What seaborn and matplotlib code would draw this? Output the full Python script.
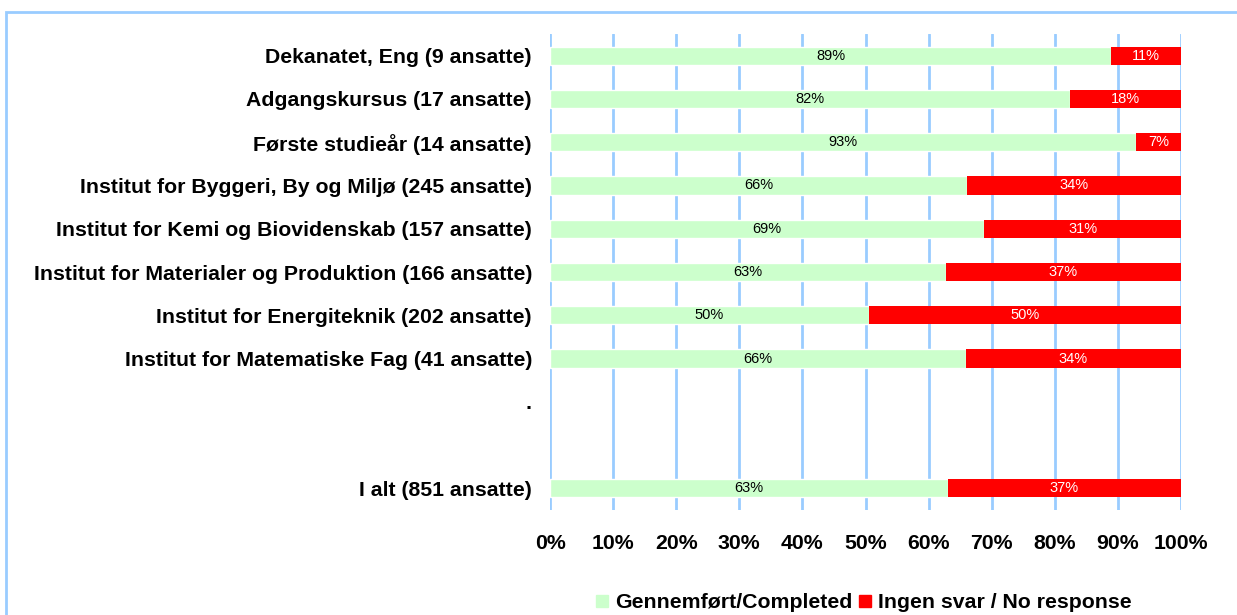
import pandas as pd
import seaborn as sns
import matplotlib.pyplot as plt
from matplotlib.patches import Rectangle

# -------------------- Data --------------------
categories = [
    "Dekanatet, Eng (9 ansatte)",
    "Adgangskursus (17 ansatte)",
    "Første studieår (14 ansatte)",
    "Institut for Byggeri, By og Miljø (245 ansatte)",
    "Institut for Kemi og Biovidenskab (157 ansatte)",
    "Institut for Materialer og Produktion (166 ansatte)",
    "Institut for Energiteknik (202 ansatte)",
    "Institut for Matematiske Fag (41 ansatte)",
    "I alt (851 ansatte)",
]
completed = [88.9, 82.4, 92.9, 66.1, 68.8, 62.7, 50.5, 65.9, 63.0]
no_response = [11.1, 17.6, 7.1, 33.9, 31.2, 37.3, 49.5, 34.1, 37.0]
completed_labels = ["89%", "82%", "93%", "66%", "69%", "63%", "50%", "66%", "63%"]
no_response_labels = ["11%", "18%", "7%", "34%", "31%", "37%", "50%", "34%", "37%"]
# row order incl. the "." row and an empty spacer row before the total
row_order = categories[:8] + [".", " "] + categories[8:]
xticks = [0, 10, 20, 30, 40, 50, 60, 70, 80, 90, 100]

GREEN = "#CCFFCC"
RED = "#FF0000"
GRID = "#99CCFF"

df = pd.DataFrame({"category": categories, "completed": completed,
                   "no_response": no_response})

sns.set_style("white")
plt.rcParams["font.family"] = ["Liberation Sans", "DejaVu Sans"]
plt.rcParams["text.color"] = "black"
plt.rcParams["xtick.color"] = "black"
plt.rcParams["ytick.color"] = "black"

fig = plt.figure(figsize=(12.37, 6.15), dpi=100)
ax = fig.add_axes([550 / 1237, 1 - 510 / 615, 631 / 1237, 476 / 615])

sns.barplot(data=df, x="completed", y="category", order=row_order,
            color=GREEN, orient="h", width=0.42, saturation=1, ax=ax)
pos = [row_order.index(c) for c in categories]
red = ax.barh(pos, df["no_response"], left=df["completed"], height=0.42,
              color=RED, linewidth=0)

ax.bar_label(ax.containers[0], labels=completed_labels, label_type="center",
             fontsize=10.5, color="black")
ax.bar_label(red, labels=no_response_labels, label_type="center",
             fontsize=10.5, color="white")

ax.set_xlim(0, 100)
ax.set_ylim(len(row_order) - 0.5, -0.5)
ax.set_xticks(xticks)
ax.set_xticklabels([f"{t}%" for t in xticks], fontsize=15.3, fontweight="bold")
ax.set_yticks(range(len(row_order)))
ax.set_yticklabels(row_order, fontsize=15.3, fontweight="bold")
ax.tick_params(axis="x", length=0, pad=17)
ax.tick_params(axis="y", length=0, pad=13)
ax.set_xlabel("")
ax.set_ylabel("")
for s in ax.spines.values():
    s.set_visible(False)
ax.xaxis.grid(True, color=GRID, linewidth=2)
ax.set_axisbelow(True)

# legend under the chart
handles = [plt.Line2D([], [], marker="s", linestyle="", markersize=8,
                      markerfacecolor=c, markeredgecolor=c) for c in (GREEN, RED)]
fig.legend(handles, ["Gennemført/Completed", "Ingen svar / No response"],
           loc="center", bbox_to_anchor=(0.698, 0.02), ncol=2, frameon=False,
           handlelength=0.6, handletextpad=0.3, columnspacing=0.3,
           prop={"size": 15.3, "weight": "bold"})

# light blue frame around the chart area
fig.patches.append(Rectangle((6 / 1237, -0.1), 1.2, 1.1 - 12 / 615,
                             transform=fig.transFigure, fill=False,
                             edgecolor=GRID, linewidth=2))

fig.savefig("out.png", dpi=100)
